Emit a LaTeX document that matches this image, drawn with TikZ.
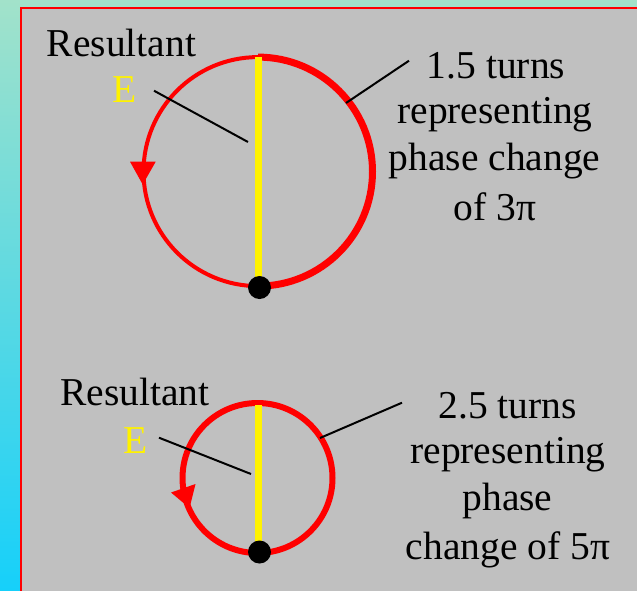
\documentclass[tikz,border=0pt]{standalone}
\usepackage{fontspec}
\setmainfont{Liberation Serif}
\definecolor{panelgray}{RGB}{192,192,192}
\definecolor{stripTop}{RGB}{162,226,202}
\definecolor{stripBot}{RGB}{22,208,250}
\begin{document}
\begin{tikzpicture}[x=1pt,y=-1pt,
  txt/.style={font=\fontsize{39.5}{47}\selectfont, anchor=base, inner sep=0pt},
  pointer/.style={line width=2pt, black},
  vector/.style={yellow, line width=6.5pt},
  dotnode/.style={circle, fill=black, minimum size=23pt, inner sep=0pt},
  tipfill/.style={fill=red}]
\useasboundingbox (0,0) rectangle (637,590);
% backdrop and panel
\shade[top color=stripTop, bottom color=stripBot] (0,0) rectangle (637,590);
\fill[panelgray] (21,7.8) rectangle (645,600);
\draw[red, line width=2pt] (21,600) -- (21,7.8) -- (645,7.8);

% ---- upper phasor circle: 1.5 turns ----
\coordinate (c1) at (258,171.6);
\draw[red, line width=7pt] (c1) ++(270:114.5) arc[start angle=270, end angle=450, radius=114.5];
\draw[red, line width=4pt] (c1) ++(270:114.5) arc[start angle=270, end angle=90, radius=114.5];
\fill[tipfill] (130,161.7) -- (155.7,161.7) -- (142.7,184.5) -- cycle;
\coordinate (ytop1) at (258.3,57);
\coordinate (ybot1) at (258.3,287);
\draw[vector] (ytop1) -- (ybot1);
\node[dotnode] (dot1) at (259.5,287.5) {};

\node[txt] (res1) at (121.5,56) {Resultant};
\node[txt, text=yellow] (e1) at (124.5,102.7) {E};
\coordinate (pa1) at (154,90.7);
\coordinate (pb1) at (248,142);
\draw[pointer] (pa1) -- (pb1);

\node[txt] (t1a) at (496,78) {1.5 turns};
\node[txt] (t1b) at (495,123.5) {representing};
\node[txt] (t1c) at (494.5,170) {phase change};
\node[txt] (t1d) at (495,220) {of 3π};
\coordinate (pc1) at (346,103);
\coordinate (pd1) at (409,60.7);
\draw[pointer] (pc1) -- (pd1);

% ---- lower phasor circle: 2.5 turns ----
\coordinate (c2) at (257.5,478);
\draw[red, line width=6pt] (c2) circle[radius=75];
\fill[tipfill] (171,492.5) -- (195.5,484) -- (189.5,508) -- cycle;
\coordinate (ytop2) at (258.3,405);
\coordinate (ybot2) at (258.3,552);
\draw[vector] (ytop2) -- (ybot2);
\node[dotnode] (dot2) at (259.5,552) {};

\node[txt] (res2) at (135,405) {Resultant};
\node[txt, text=yellow] (e2) at (136,453) {E};
\coordinate (pa2) at (159,437.7);
\coordinate (pb2) at (251,474);
\draw[pointer] (pa2) -- (pb2);

\node[txt] (t2a) at (507.5,418) {2.5 turns};
\node[txt] (t2b) at (508,463) {representing};
\node[txt] (t2c) at (507.5,510) {phase};
\node[txt] (t2d) at (508,559.5) {change of 5π};
\coordinate (pc2) at (320,438);
\coordinate (pd2) at (402,402.7);
\draw[pointer] (pc2) -- (pd2);
\end{tikzpicture}
\end{document}
